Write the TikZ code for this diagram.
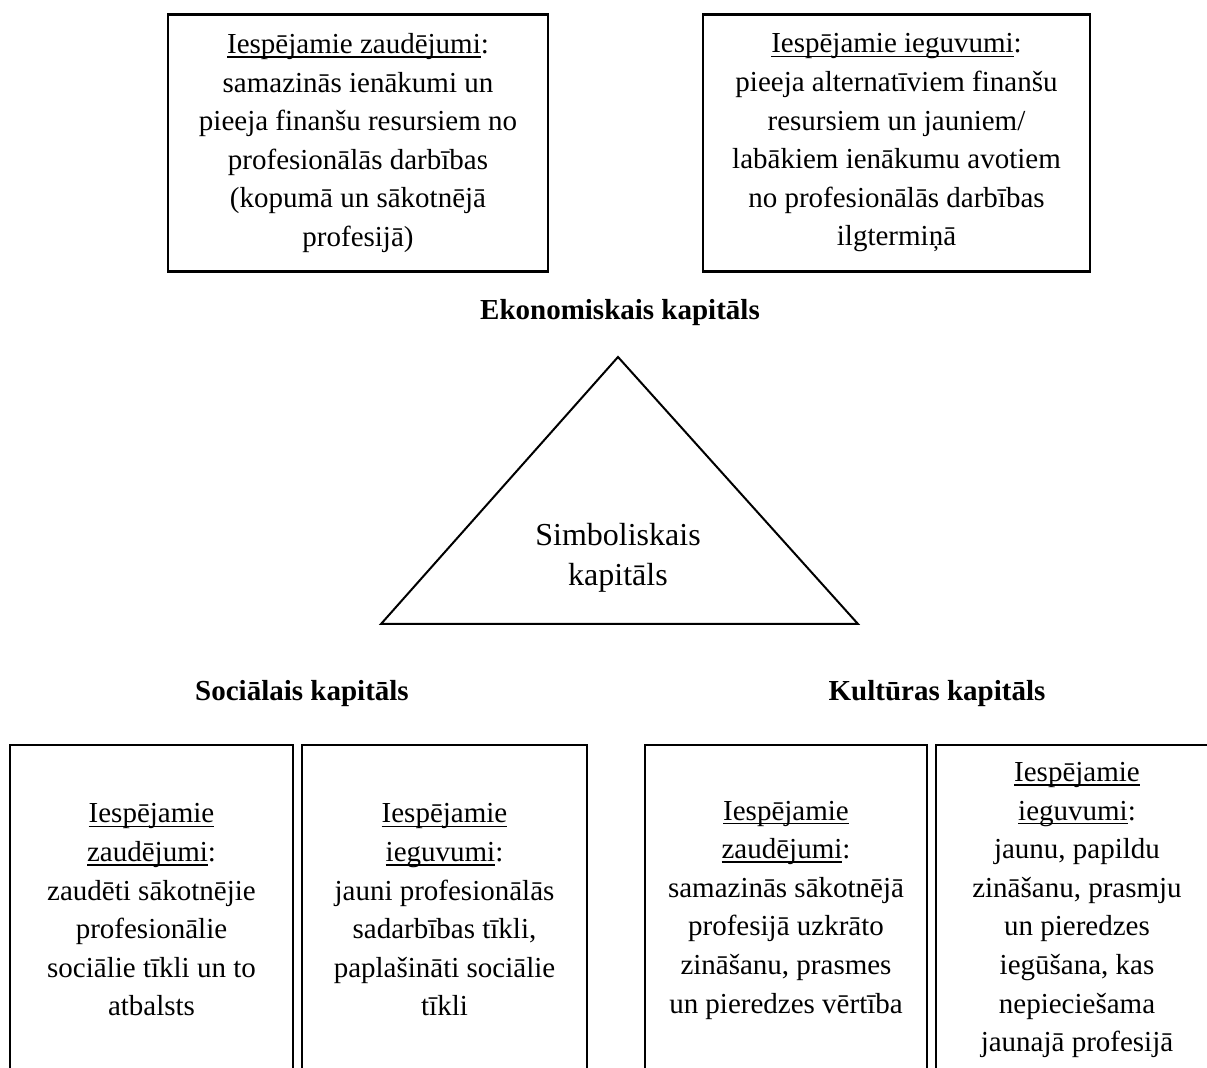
\documentclass[tikz,border=0pt]{standalone}
\usepackage{fontspec}
\setmainfont{Liberation Serif}
% underline at a fixed depth below the baseline
\newcommand{\undl}[1]{\mbox{\setbox0=\hbox{#1}\rlap{\rule[-2.1pt]{\wd0}{0.75pt}}\box0}}
\begin{document}
\begin{tikzpicture}[x=0.5pt,y=-0.5pt,
  every node/.style={inner sep=0pt, outer sep=0pt},
  txt/.style={align=center, font=\fontsize{14.5pt}{19.3pt}\selectfont},
  infobox/.style={txt, draw, line width=1.2pt, rectangle},
  heading/.style={font=\fontsize{14.5pt}{19.3pt}\selectfont\bfseries},
  centre/.style={align=center, font=\fontsize{16pt}{20pt}\selectfont}]
\clip (0,0) rectangle (1207,1068);

% economic capital: losses and gains
\node[infobox, minimum width=190pt, minimum height=128.5pt] (econLoss) at (358,143)
  {\undl{Iespējamie zaudējumi}:\\samazinās ienākumi un\\pieeja finanšu resursiem no\\profesionālās darbības\\(kopumā un sākotnējā\\profesijā)};
\node[infobox, minimum width=193.5pt, minimum height=128.5pt] (econGain) at (896.5,143)
  {\undl{Iespējamie ieguvumi}:\\pieeja alternatīviem finanšu\\resursiem un jauniem/\\labākiem ienākumu avotiem\\no profesionālās darbības\\ilgtermiņā};
\node[heading] (econ) at (620,313) {Ekonomiskais kapitāls};

% symbolic capital triangle
\coordinate (apex) at (618,357);
\coordinate (baseL) at (381,624);
\coordinate (baseR) at (858,624);
\draw[line width=1pt, line join=miter] (apex) -- (baseR) -- (baseL) -- cycle;
\node[centre] (symb) at (618,558) {Simboliskais\\kapitāls};

% social and cultural capital
\node[heading] (soc) at (302,694) {Sociālais kapitāls};
\node[heading] (cult) at (937,694) {Kultūras kapitāls};

\node[infobox, minimum width=141.5pt, minimum height=165pt] (socLoss) at (151.5,910)
  {\undl{Iespējamie}\\\undl{zaudējumi}:\\zaudēti sākotnējie\\profesionālie\\sociālie tīkli un to\\atbalsts};
\node[infobox, minimum width=142.5pt, minimum height=165pt] (socGain) at (444.5,910)
  {\undl{Iespējamie}\\\undl{ieguvumi}:\\jauni profesionālās\\sadarbības tīkli,\\paplašināti sociālie\\tīkli};
\node[infobox, minimum width=141pt, minimum height=165pt] (cultLoss) at (786,910)
  {\undl{Iespējamie}\\\undl{zaudējumi}:\\samazinās sākotnējā\\profesijā uzkrāto\\zināšanu, prasmes\\un pieredzes vērtība};
\node[infobox, minimum width=141pt, minimum height=165pt] (cultGain) at (1077,910)
  {\undl{Iespējamie}\\\undl{ieguvumi}:\\jaunu, papildu\\zināšanu, prasmju\\un pieredzes\\iegūšana, kas\\nepieciešama\\jaunajā profesijā};
\end{tikzpicture}
\end{document}
